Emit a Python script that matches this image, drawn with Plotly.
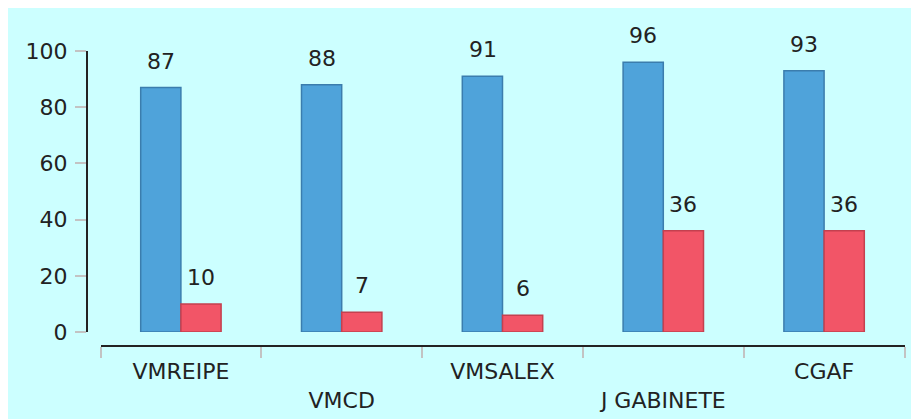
import plotly.graph_objects as go

categories = ["VMREIPE", "VMCD", "VMSALEX", "J GABINETE", "CGAF"]
tick_labels = ["VMREIPE", "<br>VMCD", "VMSALEX", "<br>J GABINETE", "CGAF"]
series_a = [87, 88, 91, 96, 93]
series_b = [10, 7, 6, 36, 36]
y_ticks = [0, 20, 40, 60, 80, 100]

FONT = "DejaVu Sans"
FS = 22
TXT = "#222222"
BLUE = "#4FA3DA"
BLUE_LINE = "#3B7DAD"
RED = "#F25567"
RED_LINE = "#C4404F"
TICKC = "#C3C3C3"
BG = "#CCFFFF"

W, H = 903, 411
OX, OY = 8, 9  # page offset of the figure in the screenshot


def px_x(p):
    return (p - OX) / W


def px_y(p):
    return 1 - (p - OY) / H


xdom = [px_x(100.5), px_x(904.5)]
ydom = [px_y(333), px_y(52)]

fig = go.Figure()
fig.add_trace(go.Bar(x=categories, y=series_a,
                     marker=dict(color=BLUE, line=dict(color=BLUE_LINE, width=1.5)),
                     hoverinfo="x+y"))
fig.add_trace(go.Bar(x=categories, y=series_b,
                     marker=dict(color=RED, line=dict(color=RED_LINE, width=1.5)),
                     hoverinfo="x+y"))

annotations = []
for c, a, b in zip(categories, series_a, series_b):
    annotations.append(dict(x=c, y=a, text=str(a), showarrow=False, xref="x", yref="y",
                            yanchor="bottom", xshift=-20, yshift=12,
                            font=dict(family=FONT, size=FS, color=TXT)))
    annotations.append(dict(x=c, y=b, text=str(b), showarrow=False, xref="x", yref="y",
                            yanchor="bottom", xshift=20, yshift=12,
                            font=dict(family=FONT, size=FS, color=TXT)))

fig.update_layout(
    width=W, height=H,
    margin=dict(l=0, r=0, t=0, b=0, pad=0, autoexpand=False),
    paper_bgcolor=BG,
    plot_bgcolor="rgba(0,0,0,0)",
    showlegend=False,
    barmode="group",
    bargap=0.5,
    bargroupgap=0,
    font=dict(family=FONT, size=FS, color=TXT),
    annotations=annotations,
    xaxis=dict(
        domain=xdom, anchor="free", position=px_y(346.5), automargin=False,
        type="category", tickmode="array", tickvals=categories, ticktext=tick_labels,
        tickson="boundaries", ticks="outside", ticklen=11, tickwidth=2, tickcolor=TICKC,
        showline=True, linecolor=TXT, linewidth=2, showgrid=False, zeroline=False,
        ticklabelstandoff=6,
        tickfont=dict(family=FONT, size=FS, color=TXT),
    ),
    xaxis2=dict(
        domain=xdom, anchor="free", position=px_y(346.5), overlaying="x", automargin=False,
        range=[-0.5, len(categories) - 0.5],
        tickmode="array", tickvals=[i - 0.5 for i in range(len(categories) + 1)],
        ticks="inside", ticklen=10, tickwidth=2, tickcolor=TICKC,
        showticklabels=False, showline=False, showgrid=False, zeroline=False,
    ),
    yaxis=dict(
        domain=ydom, anchor="free", position=px_x(87), automargin=False,
        range=[0, 100], tickmode="array", tickvals=y_ticks,
        ticks="outside", ticklen=11, tickwidth=2, tickcolor=TICKC,
        showline=True, linecolor=TXT, linewidth=2, showgrid=False, zeroline=False,
        ticklabelstandoff=3,
        tickfont=dict(family=FONT, size=FS, color=TXT),
    ),
    yaxis2=dict(
        domain=ydom, anchor="free", position=px_x(87), overlaying="y", automargin=False,
        range=[0, 100], tickmode="array", tickvals=y_ticks,
        ticks="inside", ticklen=11, tickwidth=2, tickcolor=TICKC,
        showticklabels=False, showline=False, showgrid=False, zeroline=False,
    ),
)

fig.write_html("out.html")
